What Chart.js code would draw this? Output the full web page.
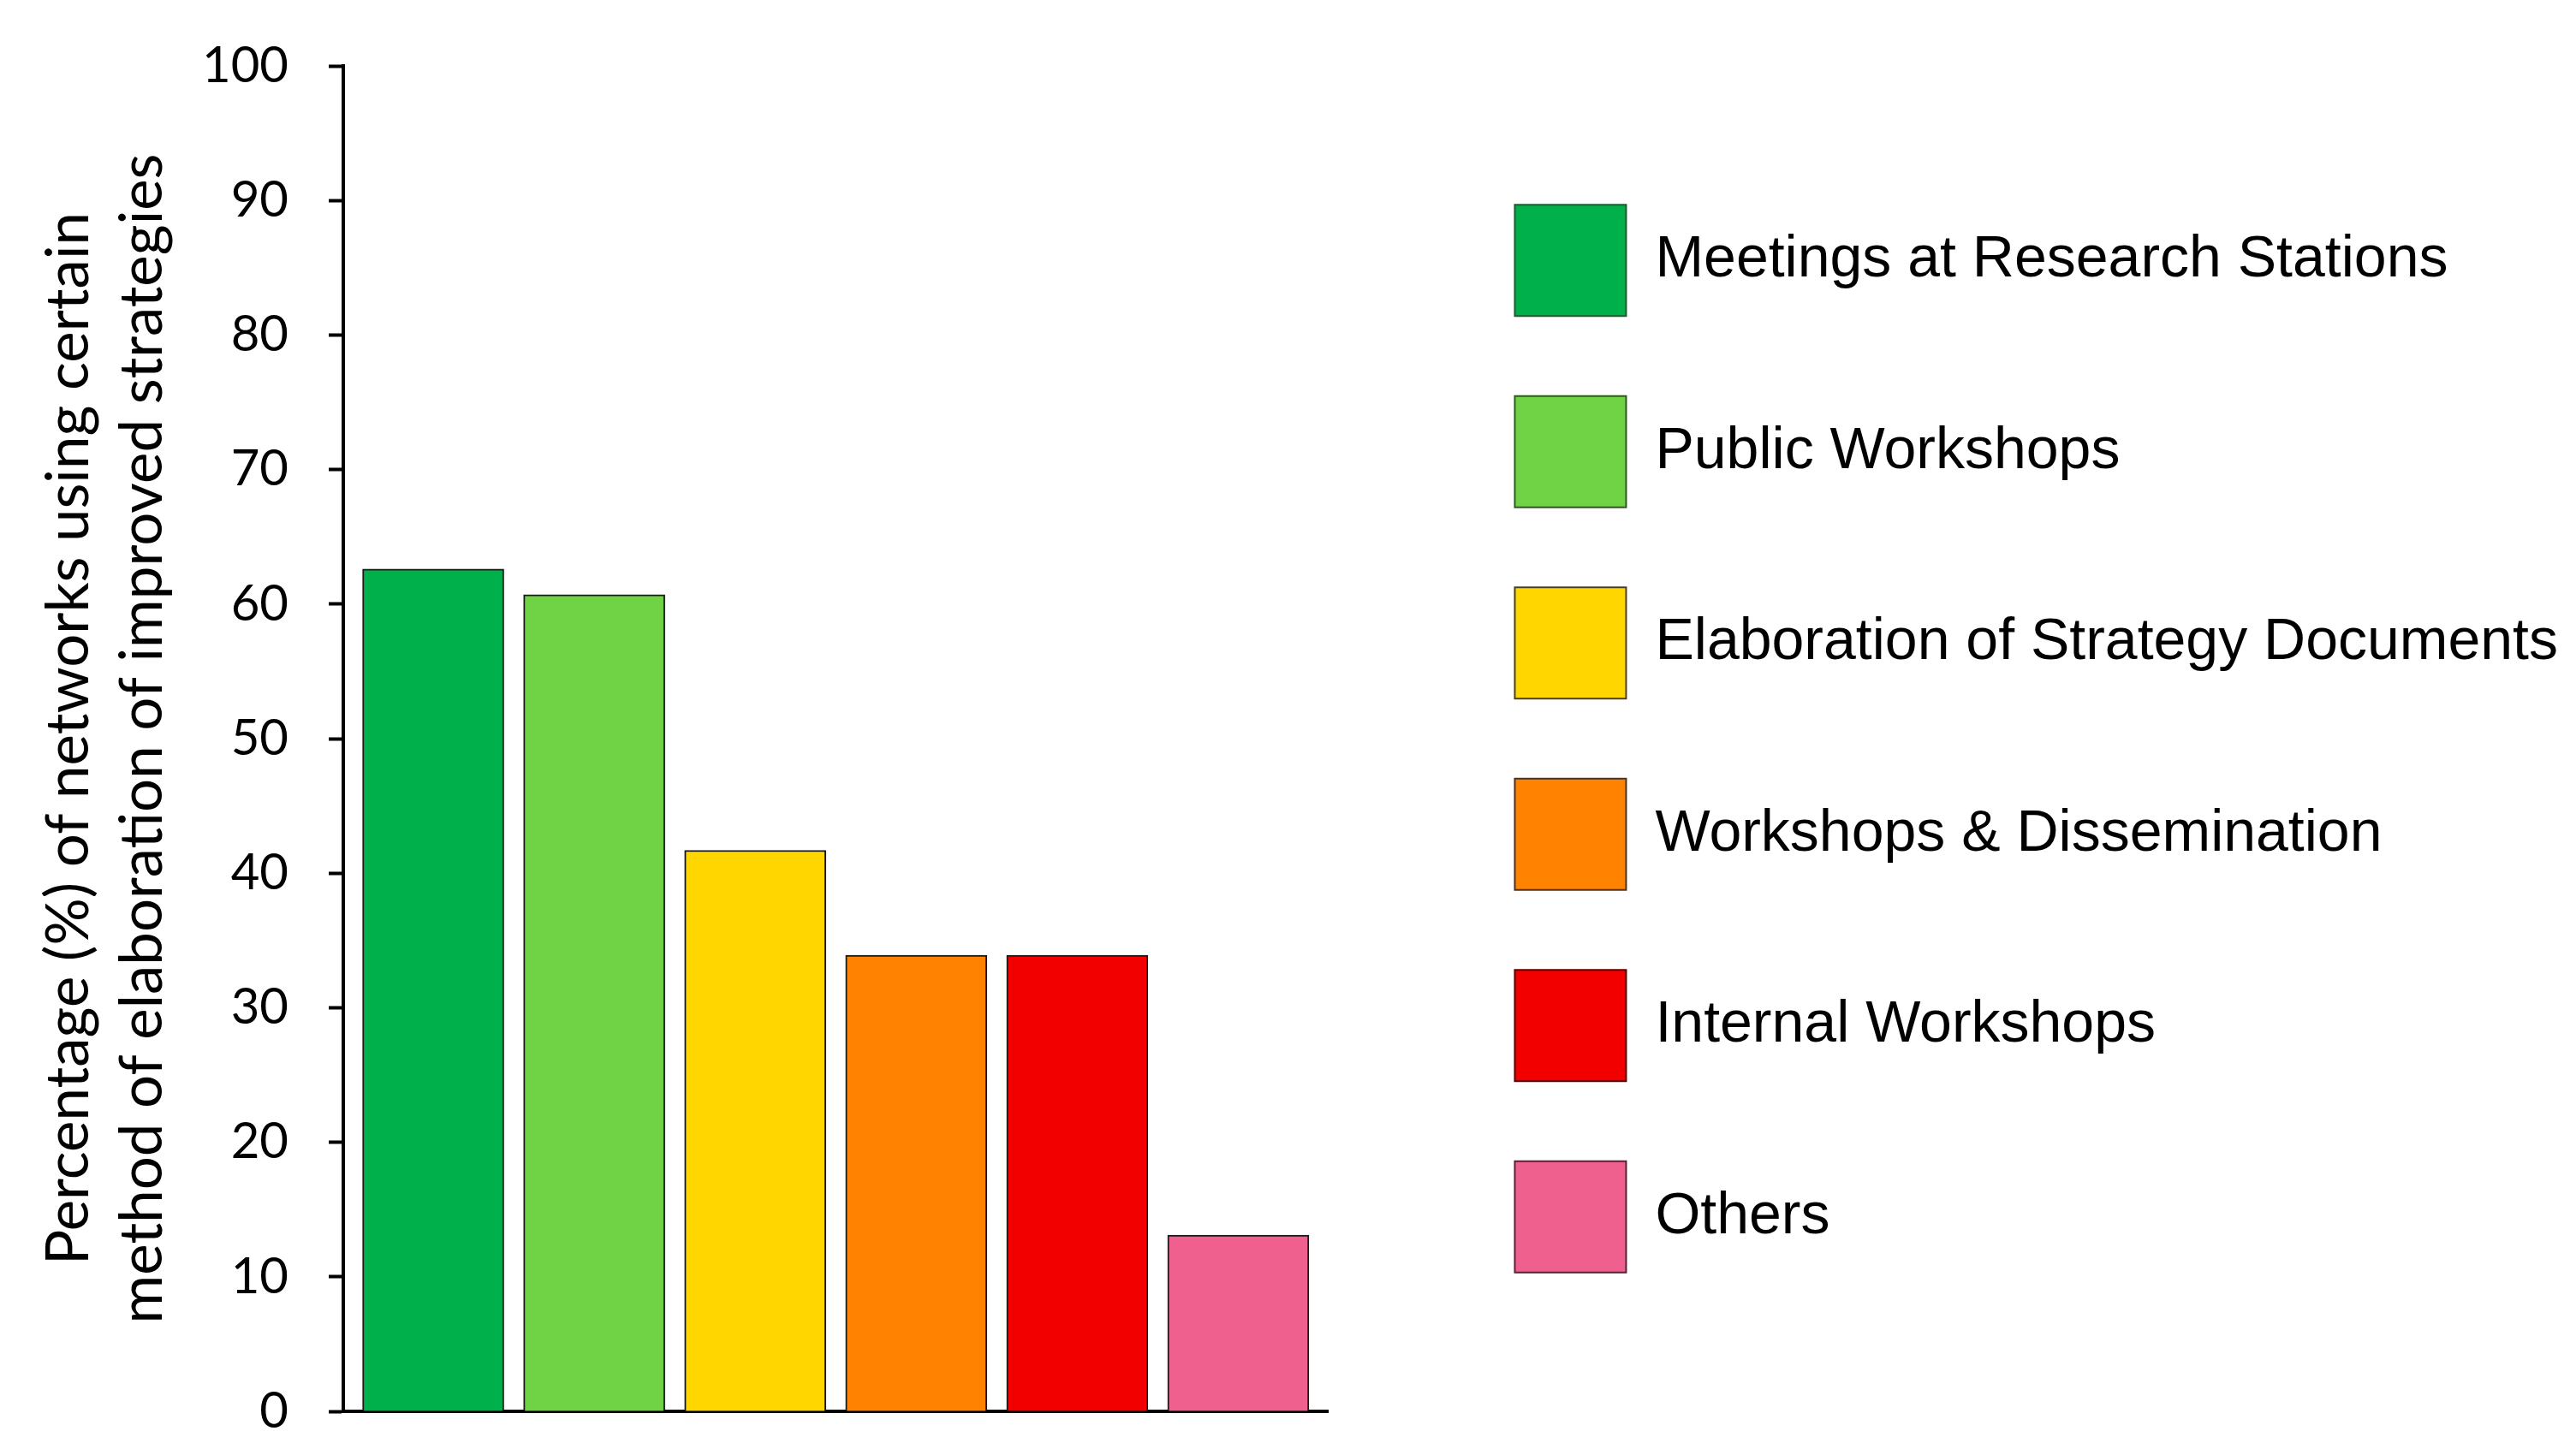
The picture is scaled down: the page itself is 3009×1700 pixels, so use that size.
<!DOCTYPE html>
<html>
<head>
<meta charset="utf-8">
<script src="https://cdn.jsdelivr.net/npm/chart.js@4.4.1/dist/chart.umd.min.js"></script>
<style>
  html, body { margin: 0; padding: 0; background: #ffffff; }
  #wrap { width: 3009px; height: 1700px; position: relative; }
</style>
</head>
<body>
<div id="wrap"><canvas id="c" width="3009" height="1700"></canvas></div>
<script>
// ---- data ----
const categories = [
  "Meetings at Research Stations",
  "Public Workshops",
  "Elaboration of Strategy Documents",
  "Workshops & Dissemination",
  "Internal Workshops",
  "Others"
];
const values = [62.6, 60.7, 41.7, 33.9, 33.9, 13.1];
const barColors = ["#00B04A", "#70D345", "#FFD600", "#FF8200", "#F20000", "#F0608F"];
const legendBorderColors = ["#1E5A2E", "#2F5A1E", "#4A4020", "#4A3320", "#5A0000", "#5A2035"];
const yTicks = [0, 10, 20, 30, 40, 50, 60, 70, 80, 90, 100];
const yTitle = ["Percentage (%) of networks using certain", "method of elaboration of improved strategies"];

const points = values.map((v, i) => ({ x: i, y: v }));

const ctx = document.getElementById('c').getContext('2d');
new Chart(ctx, {
  type: 'bar',
  data: {
    labels: categories,
    datasets: [{
      data: points,
      backgroundColor: barColors,
      borderColor: '#1a1a1a',
      borderWidth: 2,
      borderSkipped: 'bottom',
      barThickness: 165
    }]
  },
  options: {
    responsive: false,
    animation: false,
    events: [],
    layout: { padding: { top: 77, right: 11, bottom: 0, left: 0 } },
    plugins: {
      tooltip: { enabled: false },
      title: { display: false },
      legend: {
        display: true,
        position: 'right',
        fullSize: false,
        maxWidth: 1500,
        align: 'center',
        labels: {
          boxWidth: 130,
          boxHeight: 130,
          padding: 93.5,
          color: '#000000',
          font: { family: "'Liberation Sans', Arial, sans-serif", size: 68 },
          generateLabels: () => categories.map((name, i) => ({
            text: name,
            fillStyle: barColors[i],
            strokeStyle: legendBorderColors[i],
            lineWidth: 2,
            hidden: false,
            index: i
          }))
        }
      }
    },
    scales: {
      x: {
        type: 'linear',
        offset: false,
        min: -0.5585,
        max: 5.5585,
        grid: { display: false, offset: false },
        ticks: { display: false },
        border: { display: true, color: '#000000', width: 4 },
        afterFit: (s) => { s.height = 51; s.paddingLeft = 0; s.paddingRight = 0; }
      },
      y: {
        type: 'linear',
        min: 0,
        max: 100,
        afterBuildTicks: (s) => { s.ticks = yTicks.map(v => ({ value: v })); },
        grid: {
          display: true,
          drawOnChartArea: false,
          drawTicks: true,
          tickLength: 17,
          tickWidth: 4,
          tickColor: '#000000'
        },
        border: { display: true, color: '#000000', width: 4 },
        ticks: {
          color: '#000000',
          padding: 47,
          font: { family: "Lato, 'Open Sans', sans-serif", size: 58 }
        },
        title: {
          display: true,
          text: yTitle,
          color: '#000000',
          padding: { top: 38, bottom: 0 },
          font: { family: "Lato, 'Open Sans', sans-serif", size: 69, lineHeight: '86px' }
        },
        afterFit: (s) => { s.width = 401; s.paddingTop = 0; s.paddingBottom = 0; }
      },
      y2: {
        type: 'linear',
        position: 'right',
        display: true,
        grid: { display: false },
        border: { display: false },
        ticks: { display: false },
        afterFit: (s) => { s.width = 124.5; s.paddingTop = 0; s.paddingBottom = 0; }
      }
    }
  }
});
</script>
</body>
</html>
